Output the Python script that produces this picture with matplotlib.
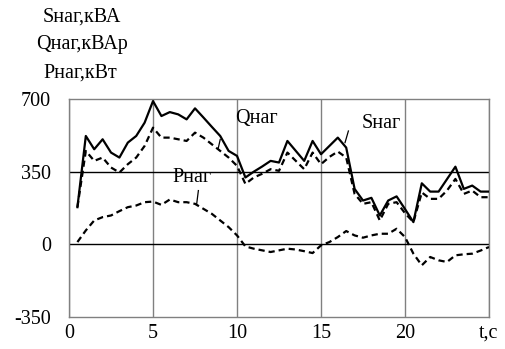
import matplotlib
matplotlib.use("Agg")
import matplotlib.pyplot as plt
import numpy as np

t = [0.5, 1.0, 1.5, 2.0, 2.5, 3.0, 3.5, 4.0, 4.5, 5.0,
     5.5, 6.0, 6.5, 7.0, 7.5, 8.0, 8.5, 9.0, 9.5, 10.0,
     10.5, 11.0, 11.5, 12.0, 12.5, 13.0, 13.5, 14.0, 14.5, 15.0,
     15.5, 16.0, 16.5, 17.0, 17.5, 18.0, 18.5, 19.0, 19.5, 20.0,
     20.5, 21.0, 21.5, 22.0, 22.5, 23.0, 23.5, 24.0, 24.5, 25.0]

S = [179, 522, 458, 506, 442, 418, 490, 522, 586, 690,
     618, 637, 626, 602, 655, 611, 566, 522, 450, 426,
     322, 350, 375, 402, 394, 498, 450, 402, 498, 434,
     474, 514, 466, 267, 211, 224, 139, 211, 231, 170,
     107, 294, 254, 254, 314, 374, 267, 283, 254, 254]

Q = [179, 450, 402, 418, 370, 346, 386, 418, 474, 562,
     514, 514, 506, 498, 538, 514, 482, 450, 418, 378,
     291, 322, 340, 362, 354, 442, 402, 362, 442, 386,
     421, 447, 418, 243, 195, 203, 115, 195, 203, 150,
     107, 250, 219, 219, 259, 315, 243, 259, 227, 227]

P = [11, 67, 115, 131, 139, 160, 179, 187, 203, 206,
     190, 216, 203, 203, 195, 171, 147, 115, 83, 43,
     -10, -21, -29, -37, -29, -21, -25, -33, -42, -5,
     11, 35, 64, 43, 32, 43, 51, 51, 75, 35,
     -45, -101, -61, -77, -85, -53, -48, -45, -30, -13]

xticks = [0, 5, 10, 15, 20, 25]
xticklabels = ["0", "5", "10", "15", "20", "t,с"]
yticks = [-350, 0, 350, 700]
yticklabels = ["-350", "0", "350", "700"]

plt.rcParams['font.family'] = ['Liberation Serif', 'DejaVu Serif']
fs = 14.5

fig = plt.figure(figsize=(5.06, 3.49), dpi=100)
ax = fig.add_axes([0.1364, 0.0917, 0.83, 0.6246])
ax.set_xlim(0, 25)
ax.set_ylim(-350, 700)

for xv in xticks:
    ax.axvline(xv, color='#808080', lw=1.0, zorder=1)
for yv in [0, 350]:
    ax.axhline(yv, color='black', lw=1.0, zorder=1)
for sp in ax.spines.values():
    sp.set_color('#808080')
    sp.set_linewidth(1.0)

dash = (0, (2.8, 1.8))
ax.plot(t, S, color='black', lw=1.6, zorder=3)
ax.plot(t, Q, color='black', lw=1.6, ls=dash, zorder=3)
ax.plot(t, P, color='black', lw=1.6, ls=dash, zorder=3)

ax.set_xticks(xticks)
ax.set_xticklabels(xticklabels, fontsize=fs)
ax.set_yticks(yticks)
ax.set_yticklabels(yticklabels, fontsize=fs)
ax.tick_params(length=0, pad=5)
ax.tick_params(axis='y', pad=13)

ax.text(9.88, 608, "Qнаг", fontsize=fs, va='center', ha='left')
ax.plot([8.88, 9.0], [462, 505], color='black', lw=0.9)
ax.text(17.44, 584, "Sнаг", fontsize=fs, va='center', ha='left')
ax.plot([16.43, 16.63], [490, 546], color='black', lw=0.9)
ax.text(6.13, 321, "Рнаг", fontsize=fs, va='center', ha='left')
ax.plot([7.6, 7.7], [195, 259], color='black', lw=0.9)

fig.text(82 / 506, 1 - 17 / 349, "Sнаг,кВА", fontsize=fs, ha='center', va='center')
fig.text(82 / 506, 1 - 45 / 349, "Qнаг,кВАр", fontsize=fs, ha='center', va='center')
fig.text(80 / 506, 1 - 73 / 349, "Рнаг,кВт", fontsize=fs, ha='center', va='center')

fig.savefig("out.png", dpi=100)
